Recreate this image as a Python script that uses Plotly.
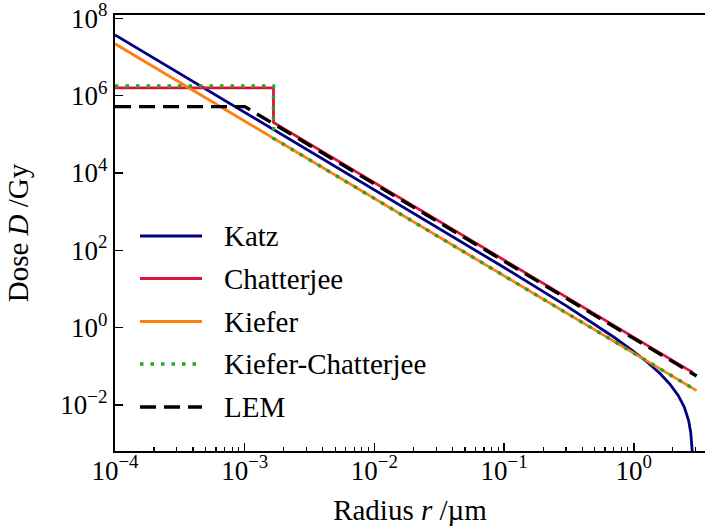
import plotly.graph_objects as go

# ---------------- data ----------------
series_names = ["Katz", "Chatterjee", "Kiefer", "Kiefer-Chatterjee", "LEM"]

katz_r = [1e-4, 1e-2, 0.1, 0.3, 0.5, 0.7, 1.0, 1.3, 1.6, 1.9, 2.2, 2.45, 2.65, 2.75, 2.82, 2.855, 2.86]
katz_D = [3.72e7, 3.70e3, 35.9, 3.70, 1.227, 0.573, 0.2415, 0.120, 0.064, 0.0345, 0.0177,
          0.00887, 0.00388, 0.00189, 0.000653, 7.9e-5, 1e-8]

chat_r = [1e-4, 1.667e-3, 1.667e-3, 2.84]
chat_D = [1.585e6, 1.585e6, 2.02e5, 0.0697]

kief_r = [1e-4, 3.05]
kief_D = [2.19e7, 0.0235]

kc_r = [1e-4, 1.667e-3, 1.667e-3, 3.05]
kc_D = [1.778e6, 1.778e6, 7.87e4, 0.0235]

lem_r = [1e-4, 1.0e-3, 3.05]
lem_D = [5.2e5, 5.2e5, 0.0564]

x_tickvals = [1e-4, 1e-3, 1e-2, 1e-1, 1e0]
x_ticktext = ["10<sup>\u22124</sup>", "10<sup>\u22123</sup>", "10<sup>\u22122</sup>",
              "10<sup>\u22121</sup>", "10<sup>0</sup>"]
y_tickvals = [1e-2, 1e0, 1e2, 1e4, 1e6, 1e8]
y_ticktext = ["10<sup>\u22122</sup>", "10<sup>0</sup>", "10<sup>2</sup>",
              "10<sup>4</sup>", "10<sup>6</sup>", "10<sup>8</sup>"]
x_minor = [m * 10.0 ** e for e in range(-4, 1) for m in range(2, 10)]

# ---------------- styles ----------------
colors = ["#000080", "#DC143C", "#FF7F0E", "#2CA02C", "#000000"]
dashes = ["solid", "solid", "solid", "3.5px,7px", "16px,8px"]
widths = [2.8, 2.8, 2.8, 3.4, 3.4]
FONT = "Liberation Serif"

W, H = 705, 532
ML, MR, MT, MB = 115, 0, 15, 81

fig = go.Figure()
data = [(katz_r, katz_D), (chat_r, chat_D), (kief_r, kief_D), (kc_r, kc_D), (lem_r, lem_D)]
for (r, d), name, c, ds, w in zip(data, series_names, colors, dashes, widths):
    fig.add_trace(go.Scatter(x=r, y=d, mode="lines", name=name,
                             line=dict(color=c, dash=ds, width=w), showlegend=False))

# ---------------- manual legend (positions in page pixels) ----------------
pw, ph = W - ML - MR, H - MT - MB
def px2paper_x(px):
    return (px - ML) / pw
def px2paper_y(py):
    return (H - MB - py) / ph

leg_x0, leg_x1, leg_tx = 140, 202, 222
leg_rows = [236, 278.5, 321.5, 364, 407]
for name, c, ds, w, yy in zip(series_names, colors, dashes, widths, leg_rows):
    fig.add_shape(type="line", xref="paper", yref="paper",
                  x0=px2paper_x(leg_x0), x1=px2paper_x(leg_x1),
                  y0=px2paper_y(yy), y1=px2paper_y(yy),
                  line=dict(color=c, dash=ds, width=w))
    fig.add_annotation(xref="paper", yref="paper", x=px2paper_x(leg_tx), y=px2paper_y(yy),
                       text=name, showarrow=False, xanchor="left", yanchor="middle",
                       font=dict(family=FONT, size=29, color="black"))

axis_common = dict(type="log", showline=True, linewidth=2.2, linecolor="black",
                   ticks="inside", tickcolor="black", tickwidth=1.5, ticklen=8,
                   showgrid=False, zeroline=False, ticklabeloverflow="allow",
                   tickfont=dict(family=FONT, size=27, color="black"))

fig.update_xaxes(**axis_common, range=[-4, 0.549], mirror=True,
                 tickmode="array", tickvals=x_tickvals, ticktext=x_ticktext,
                 ticklabelstandoff=-6,
                 minor=dict(ticks="inside", ticklen=4, tickwidth=1.2, tickcolor="black",
                            tickmode="array", tickvals=x_minor, showgrid=False),
                 title=dict(text="Radius <i>r</i> /\u00b5m", standoff=15,
                            font=dict(family=FONT, size=29, color="black")))
fig.update_yaxes(**axis_common, range=[-3.19, 8.085], mirror=False,
                 tickmode="array", tickvals=y_tickvals, ticktext=y_ticktext,
                 title=dict(text="Dose <i>D</i> /Gy", standoff=23,
                            font=dict(family=FONT, size=29, color="black")))

fig.update_layout(width=W, height=H, margin=dict(l=ML, r=MR, t=MT, b=MB, autoexpand=False),
                  plot_bgcolor="white", paper_bgcolor="white", showlegend=False)

# remove the default 8px page margin so the figure fills the window exactly
fig.write_html("out.html", config={"displayModeBar": False, "staticPlot": True},
               post_script="document.body.style.margin='0';document.body.style.overflow='hidden';")
